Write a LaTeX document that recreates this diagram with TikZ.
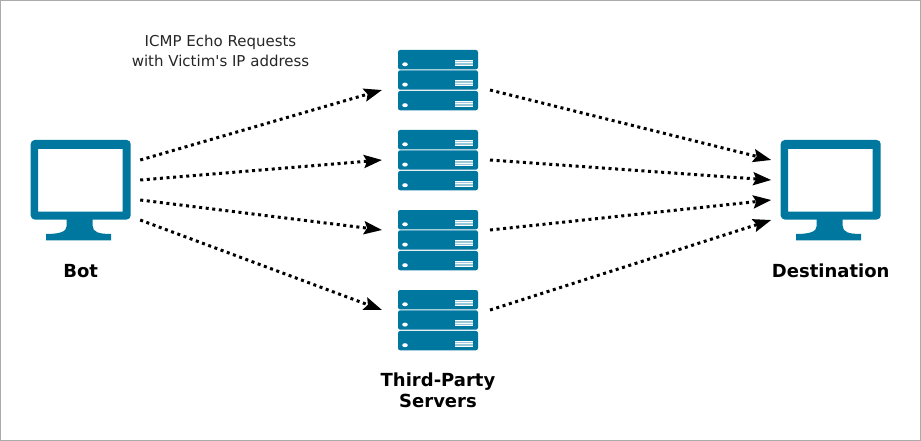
\documentclass[tikz,border=0pt]{standalone}
\usepackage{fontspec}
\setmainfont{DejaVu Sans}
\usetikzlibrary{positioning, arrows.meta}
\definecolor{icontone}{HTML}{00779E}
\tikzset{
    flow/.style={line width=3pt, dash pattern=on 3pt off 3.6pt, -{Stealth[length=18pt, width=13pt, inset=3pt]}},
    iconbox/.style={minimum width=100pt, minimum height=100pt, outer xsep=9.5pt, inner sep=0pt},
    rackbox/.style={minimum width=80pt, minimum height=60pt, outer xsep=16pt, inner sep=0pt},
    caption/.style={font=\bfseries\fontsize{18}{21}\selectfont, align=center},
    note/.style={font=\fontsize{15}{20}\selectfont, align=center, text=black!85},
    monitor/.pic={
        \fill[icontone, even odd rule, rounded corners=4pt] (-50,-50) rectangle (50,29.5)
            [sharp corners] (-42.7,-41) rectangle (42,21.7);
        \fill[icontone] (-14,29) -- (12,29) -- (12,36) .. controls (12,42) and (18,44) .. (30.3,44)
            -- (30.3,50.3) -- (-34.7,50.3) -- (-34.7,44) .. controls (-22,44) and (-14,42) .. (-14,36) -- cycle;
    },
    rackunit/.pic={
        \fill[icontone, rounded corners=2.2pt] (-40,-9.7) rectangle (40,9.7);
        \fill[white] (-33,4.6) ellipse (2.8pt and 2pt);
        \fill[white!60!icontone] (17,0.3) rectangle (35,6.3);
        \foreach \liney in {0.6, 3.1, 5.6}
            \draw[white, line width=0.8pt] (17,\liney) -- (35,\liney);
    },
    rack/.pic={
        \pic at (0,-20.3) {rackunit};
        \pic at (0,0) {rackunit};
        \pic at (0,20.6) {rackunit};
    }
}
\begin{document}
\begin{tikzpicture}[x=1pt, y=-1pt]
    \useasboundingbox (0,0) rectangle (921,441);
    \draw[black!33, line width=1.2pt] (0.5,0.5) rectangle (920.3,440.3);
    % Icons
    \node (bot) [iconbox] at (80.7,190) {};
    \node (dest) [iconbox] at (830.7,190) {};
    \pic at (bot) {monitor};
    \pic at (dest) {monitor};
    \node (srvA) [rackbox] at (438,80) {};
    \node (srvB) [rackbox] at (438,160) {};
    \node (srvC) [rackbox] at (438,240) {};
    \node (srvD) [rackbox] at (438,320) {};
    \foreach \rackname in {srvA, srvB, srvC, srvD}
        \pic at (\rackname) {rack};
    % Labels
    \node (botlabel) [caption, below=20.5pt of bot] {Bot};
    \node (destlabel) [caption, below=20.5pt of dest] {Destination};
    \node (srvlabel) [caption, below=19.5pt of srvD] {Third-Party\\Servers};
    \node (reqlabel) [note] at (220.5,51) {ICMP Echo Requests\\with Victim{\textquotesingle}s IP address};
    % Bot to servers
    \draw [flow] ([yshift=30pt]bot.east) -- ([yshift=-10pt]srvA.west);
    \draw [flow] ([yshift=10pt]bot.east) -- (srvB.west);
    \draw [flow] ([yshift=-10pt]bot.east) -- ([yshift=10pt]srvC.west);
    \draw [flow] ([yshift=-30pt]bot.east) -- ([yshift=10pt]srvD.west);
    % Servers to destination
    \draw [flow] ([xshift=-4pt, yshift=-10pt]srvA.east) -- ([yshift=30pt]dest.west);
    \draw [flow] ([xshift=-4pt]srvB.east) -- ([yshift=10pt]dest.west);
    \draw [flow] ([xshift=-4pt, yshift=10pt]srvC.east) -- ([yshift=-10pt]dest.west);
    \draw [flow] ([xshift=-4pt, yshift=10pt]srvD.east) -- ([yshift=-30pt]dest.west);
\end{tikzpicture}
\end{document}
